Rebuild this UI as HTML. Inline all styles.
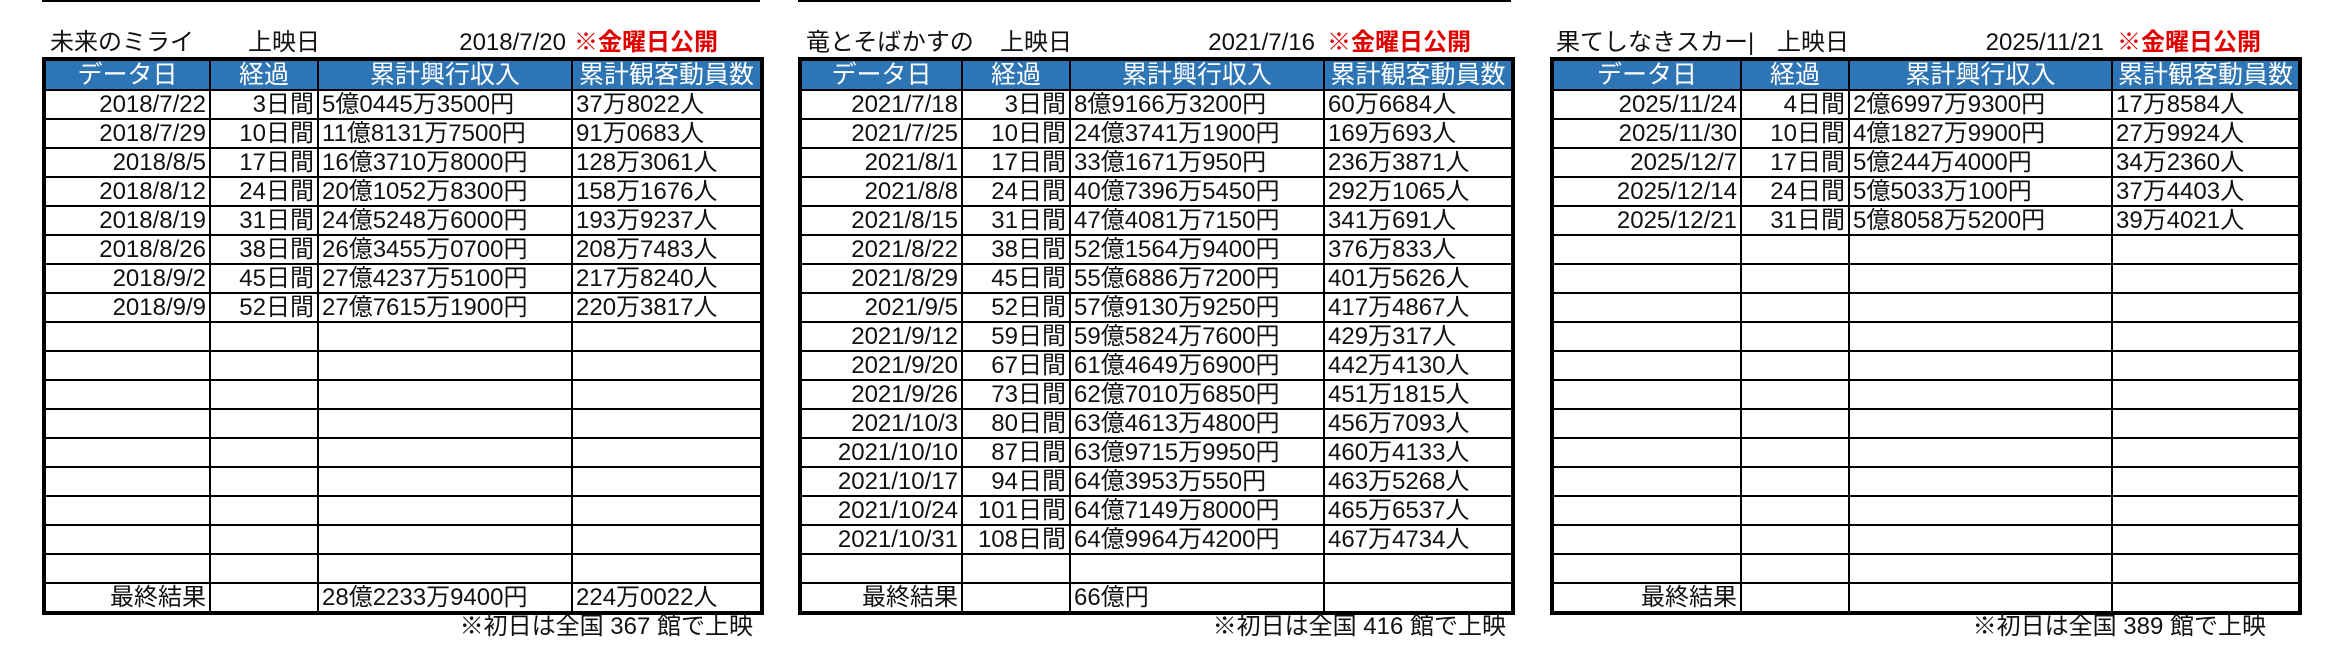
<!DOCTYPE html>
<html><head><meta charset="utf-8"><style>
body{margin:0;width:2346px;height:670px;background:#fff;position:relative;overflow:hidden;font-family:"Liberation Sans Narrow","Liberation Sans","Noto Sans CJK JP",sans-serif;color:#111}
.t{position:absolute;font-size:24px;top:29px;white-space:nowrap;line-height:28px}
.r{color:#e00000;font-weight:bold}
.line{position:absolute;top:0;height:2px;background:#000}
table{position:absolute;top:57px;border-collapse:collapse;border:4px solid #000;table-layout:fixed;font-size:24px}
td,th{border:2px solid #000;height:27px;padding:0 3px;white-space:nowrap;overflow:hidden;line-height:27px}
th{background:#2e75b6;color:#fff;font-weight:normal;height:28px;font-size:25px}
td.a{text-align:right}
.f{position:absolute;top:612px;font-size:24px;white-space:nowrap;line-height:30px}
</style></head><body>
<div class="line" style="left:42px;width:718px"></div>
<div class="line" style="left:798px;width:713px"></div>

<div class="t" style="left:50px">未来のミライ</div>
<div class="t" style="left:248px">上映日</div>
<div class="t" style="left:440px;width:126px;text-align:right">2018/7/20</div>
<div class="t r" style="left:574px">※金曜日公開</div>

<div class="t" style="left:806px">竜とそばかすの</div>
<div class="t" style="left:1000px">上映日</div>
<div class="t" style="left:1190px;width:125px;text-align:right">2021/7/16</div>
<div class="t r" style="left:1327px">※金曜日公開</div>

<div class="t" style="left:1556px">果てしなきスカー|</div>
<div class="t" style="left:1777px">上映日</div>
<div class="t" style="left:1970px;width:134px;text-align:right">2025/11/21</div>
<div class="t r" style="left:2117px">※金曜日公開</div>

<table style="left:42px;width:718px">
<colgroup><col style="width:166px"><col style="width:108px"><col style="width:254px"><col style="width:190px"></colgroup>
<tr><th>データ日</th><th>経過</th><th>累計興行収入</th><th>累計観客動員数</th></tr>
<tr><td class="a">2018/7/22</td><td class="a">3日間</td><td>5億0445万3500円</td><td>37万8022人</td></tr>
<tr><td class="a">2018/7/29</td><td class="a">10日間</td><td>11億8131万7500円</td><td>91万0683人</td></tr>
<tr><td class="a">2018/8/5</td><td class="a">17日間</td><td>16億3710万8000円</td><td>128万3061人</td></tr>
<tr><td class="a">2018/8/12</td><td class="a">24日間</td><td>20億1052万8300円</td><td>158万1676人</td></tr>
<tr><td class="a">2018/8/19</td><td class="a">31日間</td><td>24億5248万6000円</td><td>193万9237人</td></tr>
<tr><td class="a">2018/8/26</td><td class="a">38日間</td><td>26億3455万0700円</td><td>208万7483人</td></tr>
<tr><td class="a">2018/9/2</td><td class="a">45日間</td><td>27億4237万5100円</td><td>217万8240人</td></tr>
<tr><td class="a">2018/9/9</td><td class="a">52日間</td><td>27億7615万1900円</td><td>220万3817人</td></tr>
<tr><td></td><td></td><td></td><td></td></tr>
<tr><td></td><td></td><td></td><td></td></tr>
<tr><td></td><td></td><td></td><td></td></tr>
<tr><td></td><td></td><td></td><td></td></tr>
<tr><td></td><td></td><td></td><td></td></tr>
<tr><td></td><td></td><td></td><td></td></tr>
<tr><td></td><td></td><td></td><td></td></tr>
<tr><td></td><td></td><td></td><td></td></tr>
<tr><td></td><td></td><td></td><td></td></tr>
<tr><td class="a">最終結果</td><td></td><td>28億2233万9400円</td><td>224万0022人</td></tr>
</table>
<div class="f" style="right:1593px">※初日は全国 367 館で上映</div>

<table style="left:798px;width:713px">
<colgroup><col style="width:162px"><col style="width:108px"><col style="width:254px"><col style="width:189px"></colgroup>
<tr><th>データ日</th><th>経過</th><th>累計興行収入</th><th>累計観客動員数</th></tr>
<tr><td class="a">2021/7/18</td><td class="a">3日間</td><td>8億9166万3200円</td><td>60万6684人</td></tr>
<tr><td class="a">2021/7/25</td><td class="a">10日間</td><td>24億3741万1900円</td><td>169万693人</td></tr>
<tr><td class="a">2021/8/1</td><td class="a">17日間</td><td>33億1671万950円</td><td>236万3871人</td></tr>
<tr><td class="a">2021/8/8</td><td class="a">24日間</td><td>40億7396万5450円</td><td>292万1065人</td></tr>
<tr><td class="a">2021/8/15</td><td class="a">31日間</td><td>47億4081万7150円</td><td>341万691人</td></tr>
<tr><td class="a">2021/8/22</td><td class="a">38日間</td><td>52億1564万9400円</td><td>376万833人</td></tr>
<tr><td class="a">2021/8/29</td><td class="a">45日間</td><td>55億6886万7200円</td><td>401万5626人</td></tr>
<tr><td class="a">2021/9/5</td><td class="a">52日間</td><td>57億9130万9250円</td><td>417万4867人</td></tr>
<tr><td class="a">2021/9/12</td><td class="a">59日間</td><td>59億5824万7600円</td><td>429万317人</td></tr>
<tr><td class="a">2021/9/20</td><td class="a">67日間</td><td>61億4649万6900円</td><td>442万4130人</td></tr>
<tr><td class="a">2021/9/26</td><td class="a">73日間</td><td>62億7010万6850円</td><td>451万1815人</td></tr>
<tr><td class="a">2021/10/3</td><td class="a">80日間</td><td>63億4613万4800円</td><td>456万7093人</td></tr>
<tr><td class="a">2021/10/10</td><td class="a">87日間</td><td>63億9715万9950円</td><td>460万4133人</td></tr>
<tr><td class="a">2021/10/17</td><td class="a">94日間</td><td>64億3953万550円</td><td>463万5268人</td></tr>
<tr><td class="a">2021/10/24</td><td class="a">101日間</td><td>64億7149万8000円</td><td>465万6537人</td></tr>
<tr><td class="a">2021/10/31</td><td class="a">108日間</td><td>64億9964万4200円</td><td>467万4734人</td></tr>
<tr><td></td><td></td><td></td><td></td></tr>
<tr><td class="a">最終結果</td><td></td><td>66億円</td><td></td></tr>
</table>
<div class="f" style="right:840px">※初日は全国 416 館で上映</div>

<table style="left:1550px;width:748px">
<colgroup><col style="width:189px"><col style="width:108px"><col style="width:263px"><col style="width:188px"></colgroup>
<tr><th>データ日</th><th>経過</th><th>累計興行収入</th><th>累計観客動員数</th></tr>
<tr><td class="a">2025/11/24</td><td class="a">4日間</td><td>2億6997万9300円</td><td>17万8584人</td></tr>
<tr><td class="a">2025/11/30</td><td class="a">10日間</td><td>4億1827万9900円</td><td>27万9924人</td></tr>
<tr><td class="a">2025/12/7</td><td class="a">17日間</td><td>5億244万4000円</td><td>34万2360人</td></tr>
<tr><td class="a">2025/12/14</td><td class="a">24日間</td><td>5億5033万100円</td><td>37万4403人</td></tr>
<tr><td class="a">2025/12/21</td><td class="a">31日間</td><td>5億8058万5200円</td><td>39万4021人</td></tr>
<tr><td></td><td></td><td></td><td></td></tr>
<tr><td></td><td></td><td></td><td></td></tr>
<tr><td></td><td></td><td></td><td></td></tr>
<tr><td></td><td></td><td></td><td></td></tr>
<tr><td></td><td></td><td></td><td></td></tr>
<tr><td></td><td></td><td></td><td></td></tr>
<tr><td></td><td></td><td></td><td></td></tr>
<tr><td></td><td></td><td></td><td></td></tr>
<tr><td></td><td></td><td></td><td></td></tr>
<tr><td></td><td></td><td></td><td></td></tr>
<tr><td></td><td></td><td></td><td></td></tr>
<tr><td></td><td></td><td></td><td></td></tr>
<tr><td class="a">最終結果</td><td></td><td></td><td></td></tr>
</table>
<div class="f" style="right:80px">※初日は全国 389 館で上映</div>
</body></html>
